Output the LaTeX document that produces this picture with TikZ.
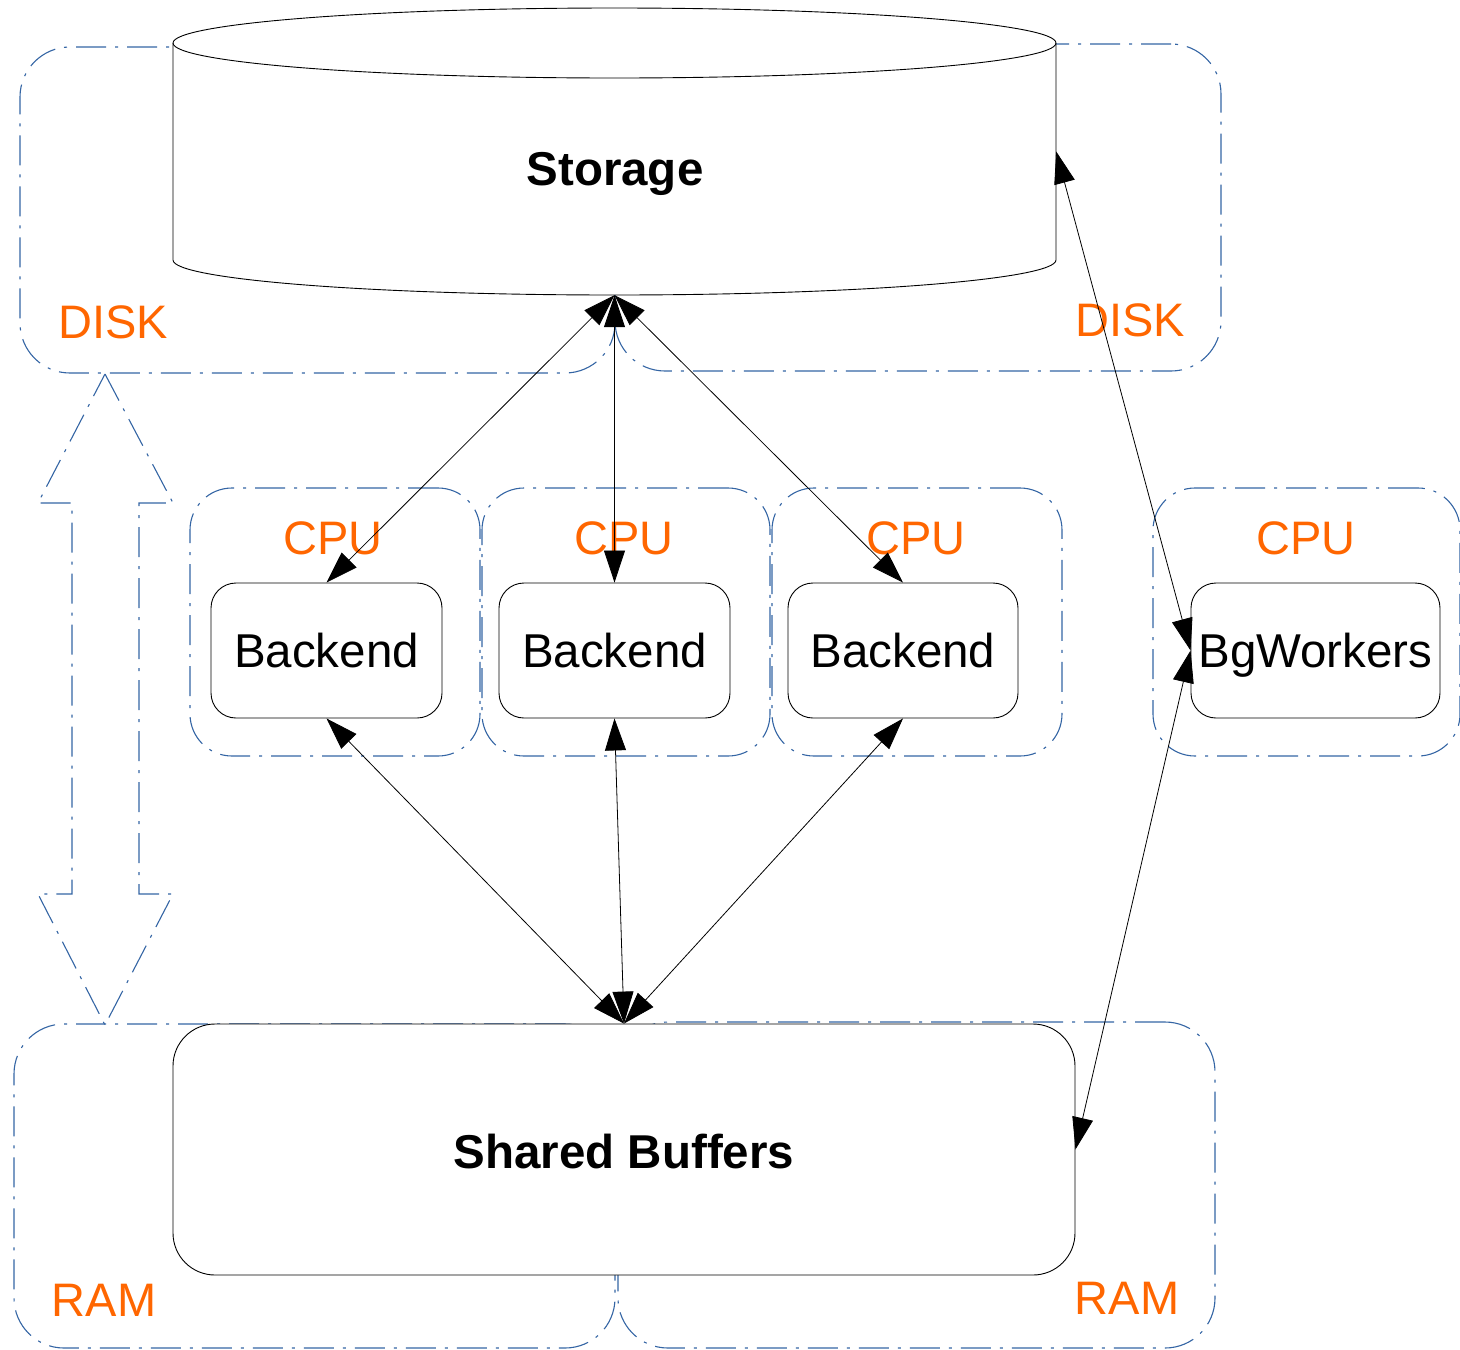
\documentclass[tikz,border=0pt]{standalone}
\usepackage{fontspec}
\setmainfont{Liberation Sans}
\usetikzlibrary{arrows.meta}
\definecolor{grpblue}{RGB}{52,101,164}
\definecolor{lblorange}{RGB}{255,102,0}
\tikzset{
  group/.style={draw=grpblue, line width=1.1pt, rounded corners=#1,
    dash pattern=on 30pt off 9pt on 3pt off 9pt, inner sep=0pt},
  group/.default=45pt,
  grplabel/.style={text=lblorange, font=\fontsize{47}{56}\selectfont, inner sep=0pt},
  procbox/.style={draw=black, line width=0.9pt, fill=white, rounded corners=25pt,
    minimum height=135pt, inner sep=0pt, text depth=0pt, font=\fontsize{47.5}{56}\selectfont},
  biarrow/.style={{Triangle[length=32pt,width=21pt]}-{Triangle[length=32pt,width=21pt]}, line width=0.8pt, black},
  bigtitle/.style={font=\fontsize{47.5}{56}\selectfont\bfseries, inner sep=0pt, text depth=0pt}
}
\begin{document}
\begin{tikzpicture}[x=1pt,y=-1pt]
\useasboundingbox (0,0) rectangle (1460,1350);
% group boxes (dashed)
\node[group=50pt, minimum width=595pt, minimum height=326pt] (diskL) at (317.5,210) {};
\node[group=50pt, minimum width=606pt, minimum height=327pt] (diskR) at (918,207.5) {};
\node[group=42pt, minimum width=290pt, minimum height=268pt] (cpu1) at (335,622) {};
\node[group=42pt, minimum width=288pt, minimum height=268pt] (cpu2) at (626,622) {};
\node[group=42pt, minimum width=290pt, minimum height=268pt] (cpu3) at (917,622) {};
\node[group=42pt, minimum width=307pt, minimum height=268pt] (cpu4) at (1306.5,622) {};
\node[group=50pt, minimum width=601pt, minimum height=324pt] (ramL) at (314.5,1186) {};
\node[group=50pt, minimum width=597pt, minimum height=326pt] (ramR) at (916.5,1185) {};
% big hollow double arrow
\draw[draw=grpblue, line width=1.1pt, dash pattern=on 30pt off 9pt on 3pt off 9pt]
  (105,374) -- (173,503) -- (139,503) -- (139,894) -- (173,894) -- (105,1025)
  -- (38,894) -- (72,894) -- (72,503) -- (38,503) -- cycle;
% storage cylinder
\draw[fill=white, line width=0.9pt] (173,43) -- (173,260)
  arc[start angle=180, end angle=0, x radius=441.5, y radius=35]
  -- (1056,43) arc[start angle=0, end angle=-180, x radius=441.5, y radius=35] -- cycle;
\draw[line width=0.9pt] (1056,43) arc[start angle=0, end angle=180, x radius=441.5, y radius=35];
\node[inner sep=0pt, minimum width=883pt, minimum height=287pt] (storage) at (614.5,151.5) {};
\node[bigtitle] (storagelbl) at (615,169) {Storage};
% shared buffers
\node[draw=black, line width=0.9pt, fill=white, rounded corners=42pt, minimum width=902pt,
  minimum height=251pt, inner sep=0pt] (shared) at (624,1149.5) {};
\node[bigtitle] (sharedlbl) at (624,1151) {Shared Buffers};
% process boxes
\node[procbox, minimum width=231pt] (b1) at (326.5,650.5) {Backend};
\node[procbox, minimum width=231pt] (b2) at (614.5,650.5) {Backend};
\node[procbox, minimum width=230pt] (b3) at (903,650.5) {Backend};
\node[procbox, minimum width=249pt] (bg) at (1315.5,650.5) {BgWorkers};
% labels
\node[grplabel] (dl1) at (113,322) {DISK};
\node[grplabel] (dl2) at (1130,320) {DISK};
\node[grplabel] (cl1) at (333,538) {CPU};
\node[grplabel] (cl2) at (624,538) {CPU};
\node[grplabel] (cl3) at (916,538) {CPU};
\node[grplabel] (cl4) at (1306,538) {CPU};
\node[grplabel] (rl1) at (104,1300) {RAM};
\node[grplabel] (rl2) at (1127,1298) {RAM};
% connectors
\draw[biarrow] (storage.south) -- (b1.north);
\draw[biarrow] (storage.south) -- (b2.north);
\draw[biarrow] (storage.south) -- (b3.north);
\draw[biarrow] (b1.south) -- (shared.north);
\draw[biarrow] (b2.south) -- (shared.north);
\draw[biarrow] (b3.south) -- (shared.north);
\draw[biarrow] (storage.east) -- (bg.west);
\draw[biarrow] (bg.west) -- (shared.east);
\end{tikzpicture}
\end{document}
